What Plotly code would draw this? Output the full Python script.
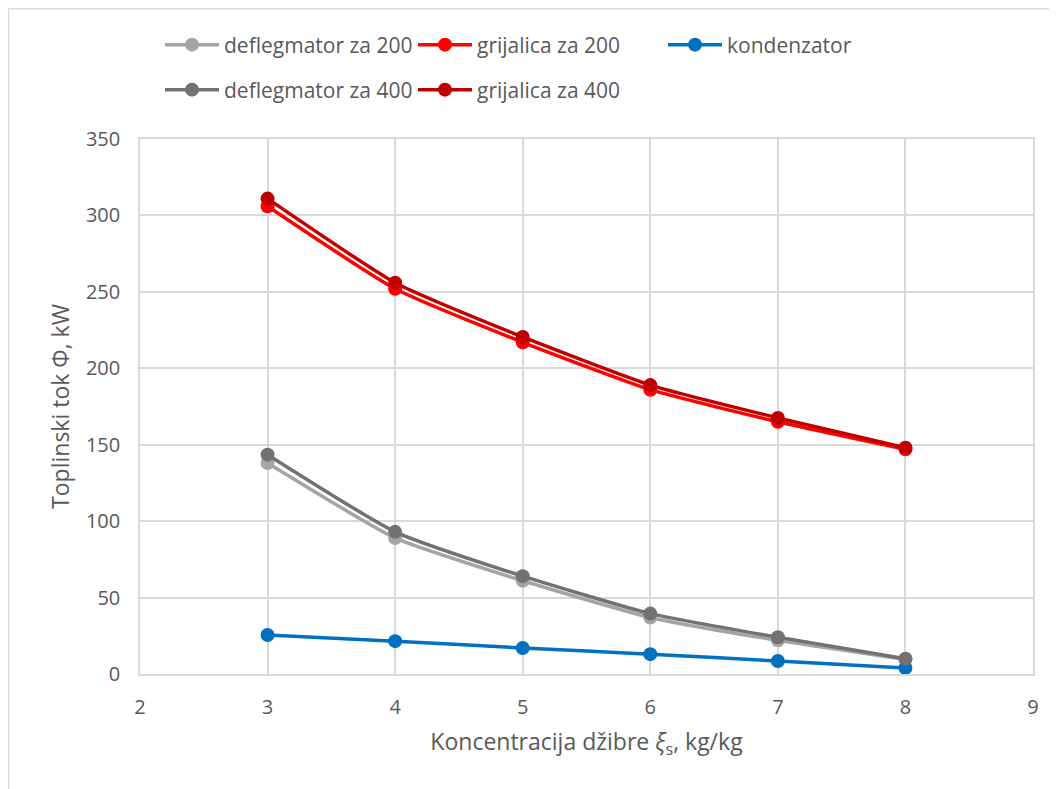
import plotly.graph_objects as go

x_vals = [3, 4, 5, 6, 7, 8]
deflegmator_200 = [138, 89, 61, 37, 22, 9.5]
grijalica_200 = [306, 252, 217, 186, 165, 147]
kondenzator = [25.5, 21.5, 17, 13, 8.5, 4]
deflegmator_400 = [143.5, 93, 64, 39.5, 24, 10]
grijalica_400 = [311, 256, 220.5, 189, 167.5, 148]

series = [
    ("deflegmator za 200", deflegmator_200, "#A5A5A5"),
    ("grijalica za 200", grijalica_200, "#FF0000"),
    ("kondenzator", kondenzator, "#0070C0"),
    ("deflegmator za 400", deflegmator_400, "#767171"),
    ("grijalica za 400", grijalica_400, "#C00000"),
]

legend_pos = [(0.0224, 1.1757), (0.3057, 1.1757), (0.5857, 1.1757),
              (0.0224, 1.0916), (0.3057, 1.0916)]
font_family = "Open Sans, Noto Sans, sans-serif"
text_color = "#595959"

fig = go.Figure()
layout_legends = {}
for i, (name, vals, color) in enumerate(series):
    lname = "legend" if i == 0 else f"legend{i+1}"
    fig.add_trace(go.Scatter(
        x=x_vals, y=vals, name=name, mode="lines+markers",
        line=dict(color=color, width=3.5, shape="spline", smoothing=0.5),
        marker=dict(color=color, size=14),
        legend=lname,
    ))
    lx, ly = legend_pos[i]
    layout_legends[lname] = dict(
        x=lx, y=ly, xref="paper", yref="paper", xanchor="left", yanchor="middle",
        orientation="h", bgcolor="rgba(0,0,0,0)",
        font=dict(family=font_family, size=21, color=text_color),
        itemwidth=54,
    )

fig.update_layout(
    width=1057, height=789,
    paper_bgcolor="white", plot_bgcolor="white",
    margin=dict(l=132, r=32, t=131, b=123),
    font=dict(family=font_family, color=text_color, size=20),
    xaxis=dict(
        range=[2, 9], dtick=1, tick0=2,
        showgrid=True, gridcolor="#D9D9D9", gridwidth=1.5,
        showline=True, linecolor="#D9D9D9", linewidth=1.5, mirror=True,
        zeroline=False, ticks="",
        tickfont=dict(size=20, color=text_color),
        ticklabelstandoff=14,
        title=dict(text="Koncentracija džibre <i>ξ</i><sub>s</sub>, kg/kg",
                   font=dict(size=23, color=text_color), standoff=15),
    ),
    yaxis=dict(
        range=[0, 350], dtick=50,
        showgrid=True, gridcolor="#D9D9D9", gridwidth=1.5,
        showline=True, linecolor="#D9D9D9", linewidth=1.5, mirror=True,
        zeroline=False, ticks="",
        tickfont=dict(size=20, color=text_color),
        ticklabelstandoff=14,
        title=dict(text="Toplinski tok Φ, kW",
                   font=dict(size=23, color=text_color), standoff=10),
    ),
    showlegend=True,
    **layout_legends,
)

fig.add_shape(type="line", xref="paper", yref="paper", x0=-0.1473, x1=1.05, y0=1.2435, y1=1.2435,
              line=dict(color="#D9D9D9", width=1.5))
fig.add_shape(type="line", xref="paper", yref="paper", x0=-0.1473, x1=-0.1473, y0=1.2435, y1=-0.3,
              line=dict(color="#D9D9D9", width=1.5))

fig.write_html("out.html")
